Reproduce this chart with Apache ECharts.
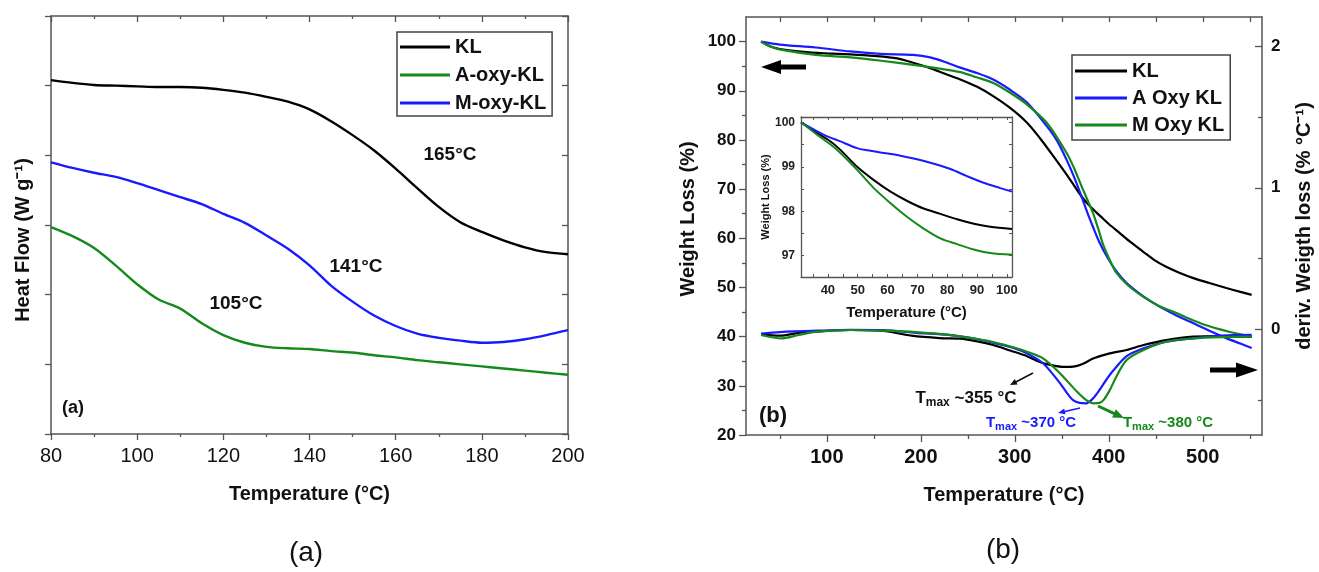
<!DOCTYPE html>
<html>
<head>
<meta charset="utf-8">
<script src="https://cdn.jsdelivr.net/npm/echarts@6/dist/echarts.min.js"></script>
<style>
html,body{margin:0;padding:0;background:#fff;}
#main{width:1319px;height:572px;}
</style>
</head>
<body>
<div id="main"></div>
<script>
// (a) DSC heat flow, arbitrary units, one value per temperature
var dscTemp = [80,85,90,95,100,105,110,115,120,125,130,135,140,145,150,155,160,165,170,175,180,185,190,195,200];
var dscKL   = [5.08,5.04,5.01,5.00,4.99,4.98,4.98,4.97,4.94,4.90,4.84,4.77,4.66,4.49,4.29,4.07,3.81,3.53,3.26,3.04,2.90,2.78,2.68,2.61,2.58];
var dscAoxy = [2.97,2.84,2.67,2.42,2.15,1.93,1.80,1.59,1.42,1.31,1.25,1.23,1.22,1.19,1.17,1.13,1.10,1.06,1.03,1.00,0.97,0.94,0.91,0.88,0.85];
var dscMoxy = [3.90,3.82,3.75,3.69,3.60,3.50,3.40,3.30,3.16,3.03,2.85,2.66,2.42,2.13,1.90,1.70,1.55,1.44,1.38,1.34,1.31,1.32,1.36,1.42,1.49];

// (b) TG weight loss (%) [temperature, value]
var tgKL = [[30,100],[40,99.0],[50,98.5],[75,97.9],[100,97.6],[125,97.4],[150,97.1],[175,96.6],[190,95.8],[210,94.6],[225,93.5],[242,92.3],[260,90.8],[277,88.9],[295,86.5],[313,83.5],[327,80.3],[341,76.7],[359,71.9],[371,68.5],[381,66.3],[391,64.5],[400,62.9],[412,61.0],[424,59.1],[437,57.2],[449,55.5],[461,54.2],[475,53.0],[490,51.9],[507,50.9],[525,49.9],[540,49.1],[552,48.5]];
var tgAoxy = [[30,100],[50,99.4],[88,98.8],[125,98.0],[157,97.5],[192,97.3],[210,96.8],[228,95.7],[242,94.7],[260,93.6],[277,92.3],[295,90.2],[313,87.6],[334,82.8],[345,79.8],[355,76.0],[363,72.5],[371,68.5],[377,65.3],[383,62.4],[390,59.2],[398,56.3],[408,53.3],[419,50.9],[436,48.3],[454,46.1],[472,44.3],[490,42.7],[507,41.2],[525,39.7],[540,38.6],[552,37.7]];
var tgMoxy = [[30,100],[40,99.0],[52,98.3],[88,97.3],[125,96.8],[158,96.1],[194,95.2],[220,94.5],[242,93.8],[260,92.7],[277,91.6],[295,89.6],[313,87.2],[334,83.5],[355,77.4],[363,74.3],[371,70.6],[383,65.2],[389,61.8],[394,58.7],[401,55.6],[408,53.0],[420,50.5],[436,48.2],[454,46.2],[472,44.8],[490,43.3],[507,42.1],[530,40.9],[552,40.0]];

// (b) DTG deriv. weight loss (% /°C)
var dtgKL = [[30,-0.04],[50,-0.045],[70,-0.025],[90,-0.015],[125,-0.005],[160,-0.012],[190,-0.045],[220,-0.062],[242,-0.066],[260,-0.085],[277,-0.111],[295,-0.15],[313,-0.19],[328,-0.235],[340,-0.255],[352,-0.266],[362,-0.264],[372,-0.245],[384,-0.205],[401,-0.17],[419,-0.146],[437,-0.111],[461,-0.076],[490,-0.052],[520,-0.048],[552,-0.052]];
var dtgAoxy = [[30,-0.03],[50,-0.02],[90,-0.01],[125,-0.004],[160,-0.006],[195,-0.025],[230,-0.04],[260,-0.07],[280,-0.1],[300,-0.135],[313,-0.17],[330,-0.24],[348,-0.38],[356,-0.455],[362,-0.5],[369,-0.52],[376,-0.523],[383,-0.49],[390,-0.43],[397,-0.36],[405,-0.29],[419,-0.19],[437,-0.134],[461,-0.088],[490,-0.064],[520,-0.045],[552,-0.04]];
var dtgMoxy = [[30,-0.04],[52,-0.064],[70,-0.04],[90,-0.017],[125,-0.005],[160,-0.01],[195,-0.02],[230,-0.04],[260,-0.07],[280,-0.095],[300,-0.13],[313,-0.158],[330,-0.205],[348,-0.31],[366,-0.44],[376,-0.5],[384,-0.523],[390,-0.52],[395,-0.495],[401,-0.43],[408,-0.335],[419,-0.217],[437,-0.146],[461,-0.088],[490,-0.064],[520,-0.055],[552,-0.052]];

// inset: weight loss 30-100 °C
var insKL = [[31,100],[36.4,99.76],[40.9,99.57],[44.2,99.38],[49.8,99.0],[55.4,98.70],[61.0,98.44],[66.6,98.23],[72.1,98.06],[77.7,97.94],[83.3,97.82],[88.9,97.72],[94.4,97.65],[101.7,97.60]];
var insAoxy = [[31,100],[38.7,99.72],[44.2,99.57],[49.8,99.42],[53.2,99.37],[58.7,99.31],[64.3,99.25],[69.9,99.17],[75.5,99.07],[81.1,98.95],[86.6,98.79],[92.2,98.64],[97.8,98.52],[101.7,98.44]];
var insMoxy = [[31,100],[36.4,99.72],[40.9,99.50],[44.2,99.31],[49.8,98.93],[55.4,98.52],[61.0,98.18],[66.6,97.87],[72.1,97.61],[77.7,97.39],[83.3,97.26],[88.9,97.14],[94.4,97.06],[101.7,97.02]];

// tick positions
var bTempLabels = [100,200,300,400,500];
var bTempMinor = [50,150,250,350,450,550];
var bTempAll = [50,100,150,200,250,300,350,400,450,500,550];
var bWeightLabels = [20,30,40,50,60,70,80,90,100];
var bWeightMinor = [25,35,45,55,65,75,85,95];
var bDerivLabels = [0,1,2];
var bDerivMinor = [-0.5,0.5,1.5];
var inTempLabels = [40,50,60,70,80,90,100];
var inTempTicks = [35,40,45,50,55,60,65,70,75,80,85,90,95,100];
var inWeightLabels = [97,98,99,100];
var inWeightTicks = [96.5,97,97.5,98,98.5,99,99.5,100];

var FONT = '"Liberation Sans", Arial, sans-serif';
var BLACK = '#000000', GREEN = '#15891a', BLUE = '#1a1aff', AXC = '#555555';

function pairs(xs, ys) {
  return xs.map(function (x, i) { return [x, ys[i]]; });
}

function line(name, data, color, xi, yi, w, z) {
  return {
    name: name, type: 'line', data: data, xAxisIndex: xi, yAxisIndex: yi,
    showSymbol: false, symbol: 'none', smooth: 0.3,
    color: color, lineStyle: {color: color, width: w || 2.2}, z: z || 3
  };
}

function plainAxis(o) {
  var a = {
    type: 'value', splitLine: {show: false},
    axisLine: {show: true, onZero: false, lineStyle: {color: AXC, width: 1.5}},
    axisTick: {show: true, lineStyle: {color: AXC, width: 1.3}},
    axisLabel: {show: false}
  };
  for (var k in o) {
    if (typeof o[k] === 'object' && a[k] && !Array.isArray(o[k])) {
      for (var kk in o[k]) a[k][kk] = o[k][kk];
    } else a[k] = o[k];
  }
  return a;
}

function arrow(x1, y1, x2, y2, color, w, hl, hw) {
  var dx = x2 - x1, dy = y2 - y1, len = Math.sqrt(dx * dx + dy * dy);
  var ux = dx / len, uy = dy / len;
  var bx = x2 - ux * hl, by = y2 - uy * hl;
  return [
    {type: 'line', shape: {x1: x1, y1: y1, x2: bx + ux, y2: by + uy}, style: {stroke: color, lineWidth: w}, z: 10},
    {type: 'polygon', shape: {points: [[x2, y2], [bx - uy * hw / 2, by + ux * hw / 2], [bx + uy * hw / 2, by - ux * hw / 2]]}, style: {fill: color}, z: 10}
  ];
}

function label(text, x, y, size, color, weight) {
  return {type: 'text', x: x, y: y, z: 10, style: {
    text: text, fill: color || '#111', font: (weight || 'bold') + ' ' + size + 'px ' + FONT,
    align: 'center', verticalAlign: 'middle'}};
}

function tmax(temp, x, y, color, size) {
  return {type: 'text', x: x, y: y, z: 10, style: {
    text: '{a|T}{b|max}{a| ~' + temp + ' °C}', align: 'center', verticalAlign: 'middle',
    rich: {
      a: {fill: color, font: 'bold ' + size + 'px ' + FONT},
      b: {fill: color, font: 'bold ' + Math.round(size * 0.7) + 'px ' + FONT, padding: [Math.round(size * 0.55), 0, 0, 0]}
    }}};
}

var graphics = [
  label('165°C', 450, 155, 19),
  label('141°C', 356, 267, 19),
  label('105°C', 236, 304, 19),
  label('(a)', 73, 408, 18),
  label('(a)', 306, 553, 28, '#111', 'normal'),
  label('(b)', 773, 416, 22),
  label('(b)', 1003, 550, 28, '#111', 'normal'),
  tmax(355, 966, 398, '#111', 17),
  tmax(370, 1031, 423, BLUE, 15),
  tmax(380, 1168, 423, GREEN, 15)
];
graphics = graphics
  .concat(arrow(806, 67, 761, 67, '#000', 5, 20, 14))
  .concat(arrow(1210, 370, 1258, 370, '#000', 5, 22, 15))
  .concat(arrow(1033, 373, 1010, 385, '#111', 1.6, 7, 6))
  .concat(arrow(1080, 408, 1058, 413, BLUE, 1.6, 7, 6))
  .concat(arrow(1098, 406, 1124, 418, GREEN, 3, 11, 9));

var nameStyle = {fontFamily: FONT, fontWeight: 'bold', fontSize: 20, color: '#111'};

var option = {
  animation: false,
  backgroundColor: '#fff',
  textStyle: {fontFamily: FONT},
  grid: [
    {left: 51, top: 16, width: 517, height: 418},
    {left: 746, top: 17, width: 516, height: 418},
    {left: 801, top: 117, width: 211, height: 160, show: true, backgroundColor: '#fff', borderWidth: 0, z: 4}
  ],
  xAxis: [
    plainAxis({gridIndex: 0, position: 'bottom', min: 80, max: 200, interval: 20,
      axisTick: {length: 6}, minorTick: {show: true, splitNumber: 2, length: 3, lineStyle: {color: AXC, width: 1.3}},
      axisLabel: {show: true, fontSize: 20, color: '#111', margin: 12, fontFamily: FONT},
      name: 'Temperature (°C)', nameLocation: 'middle', nameGap: 50, nameTextStyle: nameStyle}),
    plainAxis({gridIndex: 0, position: 'top', min: 80, max: 200, interval: 20,
      axisTick: {length: 6, inside: true}, minorTick: {show: true, splitNumber: 2, length: 3, lineStyle: {color: AXC, width: 1.3}}}),
    plainAxis({gridIndex: 1, position: 'bottom', min: 14, max: 563,
      axisTick: {length: 7, customValues: bTempLabels},
      axisLabel: {show: true, customValues: bTempLabels, fontSize: 20, fontWeight: 'bold', color: '#111', margin: 12, fontFamily: FONT},
      name: 'Temperature (°C)', nameLocation: 'middle', nameGap: 50, nameTextStyle: nameStyle}),
    plainAxis({gridIndex: 1, position: 'bottom', min: 14, max: 563,
      axisLine: {show: false}, axisTick: {length: 4, customValues: bTempMinor}}),
    plainAxis({gridIndex: 1, position: 'top', min: 14, max: 563,
      axisTick: {length: 5, inside: true, customValues: bTempAll}}),
    plainAxis({gridIndex: 2, position: 'bottom', min: 31, max: 101.7, z: 6,
      axisTick: {length: 3, inside: true, customValues: inTempTicks, lineStyle: {color: AXC, width: 1}},
      axisLine: {lineStyle: {color: AXC, width: 1.3}},
      axisLabel: {show: true, customValues: inTempLabels, fontSize: 13, fontWeight: 'bold', color: '#222', margin: 7, fontFamily: FONT},
      name: 'Temperature (°C)', nameLocation: 'middle', nameGap: 28,
      nameTextStyle: {fontFamily: FONT, fontWeight: 'bold', fontSize: 15, color: '#111'}}),
    plainAxis({gridIndex: 2, position: 'top', min: 31, max: 101.7, z: 6,
      axisLine: {lineStyle: {color: AXC, width: 1.3}},
      axisTick: {length: 3, inside: true, customValues: inTempTicks, lineStyle: {color: AXC, width: 1}}})
  ],
  yAxis: [
    plainAxis({gridIndex: 0, position: 'left', min: 0, max: 6, interval: 1, axisTick: {length: 6},
      name: 'Heat Flow (W g⁻¹)', nameLocation: 'middle', nameGap: 18,
      nameTextStyle: {fontFamily: FONT, fontWeight: 'bold', fontSize: 20, color: '#111', padding: [0, 30, 0, 0]}}),
    plainAxis({gridIndex: 0, position: 'right', min: 0, max: 6, interval: 1, axisTick: {length: 6, inside: true}}),
    plainAxis({gridIndex: 1, position: 'left', min: 20, max: 105,
      axisTick: {length: 7, customValues: bWeightLabels},
      axisLabel: {show: true, customValues: bWeightLabels, fontSize: 17, fontWeight: 'bold', color: '#111', margin: 10, fontFamily: FONT},
      name: 'Weight Loss (%)', nameLocation: 'middle', nameGap: 48,
      nameTextStyle: {fontFamily: FONT, fontWeight: 'bold', fontSize: 20, color: '#111', padding: [0, 0, 0, 14]}}),
    plainAxis({gridIndex: 1, position: 'left', min: 20, max: 105,
      axisLine: {show: false}, axisTick: {length: 4, customValues: bWeightMinor}}),
    plainAxis({gridIndex: 1, position: 'right', min: -0.747, max: 2.207,
      axisTick: {length: 7, inside: true, customValues: bDerivLabels},
      axisLabel: {show: true, customValues: bDerivLabels, fontSize: 17, fontWeight: 'bold', color: '#111', margin: 9, fontFamily: FONT},
      name: 'deriv. Weigth loss (% °C⁻¹)', nameLocation: 'middle', nameGap: 32, nameRotate: 90, nameTextStyle: nameStyle}),
    plainAxis({gridIndex: 1, position: 'right', min: -0.747, max: 2.207,
      axisLine: {show: false}, axisTick: {length: 4, inside: true, customValues: bDerivMinor}}),
    plainAxis({gridIndex: 2, position: 'left', min: 96.52, max: 100.12, z: 6,
      axisLine: {lineStyle: {color: AXC, width: 1.3}},
      axisTick: {length: 3, inside: true, customValues: inWeightTicks, lineStyle: {color: AXC, width: 1}},
      axisLabel: {show: true, customValues: inWeightLabels, fontSize: 12, fontWeight: 'bold', color: '#222', margin: 6, fontFamily: FONT},
      name: 'Weight Loss (%)', nameLocation: 'middle', nameGap: 27,
      nameTextStyle: {fontFamily: FONT, fontWeight: 'bold', fontSize: 11, color: '#111'}}),
    plainAxis({gridIndex: 2, position: 'right', min: 96.52, max: 100.12, z: 6,
      axisLine: {lineStyle: {color: AXC, width: 1.3}},
      axisTick: {length: 3, inside: true, customValues: inWeightTicks, lineStyle: {color: AXC, width: 1}}})
  ],
  legend: [
    {data: ['KL', 'A-oxy-KL', 'M-oxy-KL'], orient: 'vertical', left: 397, top: 32,
      icon: 'rect', itemWidth: 50, itemHeight: 3, itemGap: 8, padding: [5, 6, 3, 3],
      borderColor: '#444', borderWidth: 1.5, borderRadius: 0, backgroundColor: '#fff',
      textStyle: {fontFamily: FONT, fontWeight: 'bold', fontSize: 20, color: '#111'}},
    {data: ['KL', 'A Oxy KL', 'M Oxy KL'], orient: 'vertical', left: 1072, top: 55,
      icon: 'rect', itemWidth: 52, itemHeight: 3, itemGap: 7, padding: [6, 6, 5, 3],
      borderColor: '#444', borderWidth: 1.5, borderRadius: 0, backgroundColor: '#fff',
      textStyle: {fontFamily: FONT, fontWeight: 'bold', fontSize: 20, color: '#111'}}
  ],
  graphic: graphics,
  series: [
    line('KL', pairs(dscTemp, dscKL), BLACK, 0, 0, 2.4),
    line('A-oxy-KL', pairs(dscTemp, dscAoxy), GREEN, 0, 0, 2.4),
    line('M-oxy-KL', pairs(dscTemp, dscMoxy), BLUE, 0, 0, 2.4),
    line('KL', tgKL, BLACK, 2, 2),
    line('A Oxy KL', tgAoxy, BLUE, 2, 2),
    line('M Oxy KL', tgMoxy, GREEN, 2, 2),
    line('KL dtg', dtgKL, BLACK, 2, 4),
    line('A Oxy KL dtg', dtgAoxy, BLUE, 2, 4),
    line('M Oxy KL dtg', dtgMoxy, GREEN, 2, 4),
    line('KL inset', insKL, BLACK, 5, 6, 2, 6),
    line('A Oxy KL inset', insAoxy, BLUE, 5, 6, 2, 6),
    line('M Oxy KL inset', insMoxy, GREEN, 5, 6, 2, 6)
  ]
};

var myChart = echarts.init(document.getElementById('main'));
myChart.setOption(option);
</script>
</body>
</html>
